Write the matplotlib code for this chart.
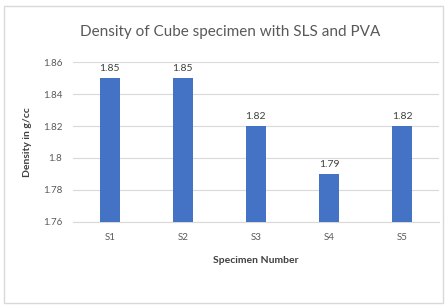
import numpy as np
import matplotlib
matplotlib.use('Agg')
import matplotlib.pyplot as plt
from matplotlib.patches import Rectangle

# Données du graphique
specimens = ['S1', 'S2', 'S3', 'S4', 'S5']
densite = [1.85, 1.85, 1.82, 1.79, 1.82]
yticks = [1.76, 1.78, 1.8, 1.82, 1.84, 1.86]
ytick_labels = ['1.76', '1.78', '1.8', '1.82', '1.84', '1.86']

plt.rcParams['font.family'] = ['Lato', 'DejaVu Sans']

fig = plt.figure(figsize=(4.47, 3.06), dpi=100)
# cadre du graphique (style Excel)
fig.patches.append(Rectangle((0.01, 0.01), 0.98, 0.97, transform=fig.transFigure,
                             fill=False, edgecolor='#d9d9d9', linewidth=1))

ax = fig.add_axes([0.164, 0.275, 0.817, 0.522])
x = np.arange(len(specimens))
bars = ax.bar(x, np.array(densite) - 1.76, bottom=1.76, width=0.27,
              color='#4472C4', zorder=3)

for xi, v in zip(x, densite):
    ax.text(xi, v + 0.003, f'{v:.2f}', ha='center', va='bottom',
            fontsize=7.5, color='#404040')

ax.set_ylim(1.76, 1.86)
ax.set_xlim(-0.5, len(specimens) - 0.5)
ax.set_yticks(yticks)
ax.set_yticklabels(ytick_labels)
ax.set_xticks(x)
ax.set_xticklabels(specimens)
ax.tick_params(axis='both', length=0, labelsize=7, colors='#595959', pad=8)
ax.yaxis.grid(True, color='#d9d9d9', linewidth=0.8, zorder=0)
for s in ['top', 'right', 'left']:
    ax.spines[s].set_visible(False)
ax.spines['bottom'].set_color('#d9d9d9')

ax.set_ylabel('Density in g/cc', fontsize=7.5, fontweight='bold', color='#404040', labelpad=8)
ax.set_xlabel('Specimen Number', fontsize=7.5, fontweight='bold', color='#404040', labelpad=10)
fig.text(0.515, 0.895, 'Density of Cube specimen with SLS and PVA', ha='center', va='center',
         fontsize=11, color='#595959')

fig.savefig('out.png', dpi=100)
